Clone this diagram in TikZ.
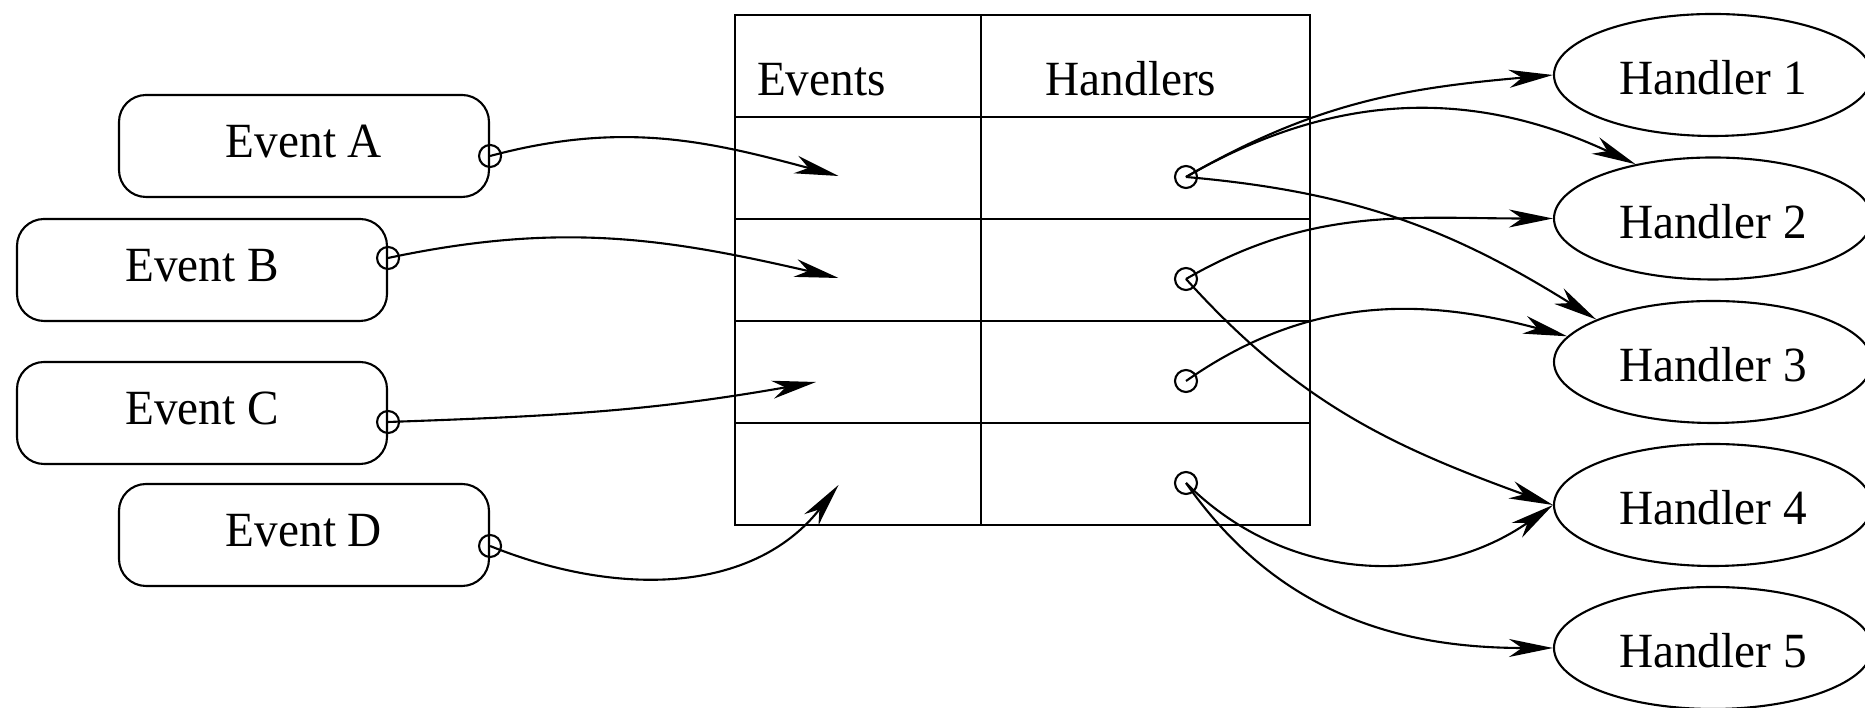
\documentclass[tikz,border=0pt]{standalone}
\usepackage{fontspec}
\setmainfont{Liberation Serif}[FakeStretch=0.96]
\usetikzlibrary{arrows.meta,positioning,shapes.geometric}

\begin{document}
\begin{tikzpicture}[x=1cm,y=1cm,font=\fontsize{14}{16}\selectfont,line width=0.6pt,
  link/.style={-{Stealth[length=4.4mm,width=1.8mm,inset=1.3mm]}},
  event/.style={draw,rounded corners=2.7mm,minimum width=3.7cm,minimum height=1.02cm,inner sep=0pt,text depth=0.1cm},
  handler/.style={draw,ellipse,minimum width=3.18cm,minimum height=1.22cm,inner sep=0pt,text height=0.4cm},
  cell/.style={draw,minimum height=1.02cm,inner sep=0pt,outer sep=0pt},
  evcell/.style={cell,minimum width=2.46cm},
  hdcell/.style={cell,minimum width=3.29cm},
  title/.style={inner sep=0pt},
  port/.style={draw,circle,minimum size=2.2mm,inner sep=0pt}]
\useasboundingbox (0,0) rectangle (18.65,7.08);

% the table: header row and four slots
\node[evcell] (ev0) at (8.58,6.42) {};
\node[hdcell,right=0cm of ev0] (hd0) {};
\foreach \i [count=\j from 0] in {1,...,4} {
  \node[evcell,below=0cm of ev\j] (ev\i) {};
  \node[hdcell,right=0cm of ev\i] (hd\i) {};
}
\node[title,anchor=base west] (evtitle) at ([shift={(0.21,0.21)}]ev0.south west) {Events};
\node[title,anchor=base] (hdtitle) at ([shift={(-0.145,0.21)}]hd0.south) {Handlers};
\foreach \i in {1,...,4}
  \node[port] (p\i) at ([shift={(0.405,-0.09)}]hd\i.center) {};

% events on the left
\node[event] (ea) at (3.04,5.62) {Event A};
\node[event] (eb) at (2.02,4.38) {Event B};
\node[event] (ec) at (2.02,2.95) {Event C};
\node[event] (ed) at (3.04,1.73) {Event D};
\node[port] (qa) at ([yshift=-0.1cm]ea.east) {};
\node[port] (qb) at ([yshift=0.12cm]eb.east) {};
\node[port] (qc) at ([yshift=-0.09cm]ec.east) {};
\node[port] (qd) at ([yshift=-0.11cm]ed.east) {};

% handlers on the right
\foreach \i/\y in {1/6.33,2/4.895,3/3.46,4/2.03,5/0.60}
  \node[handler] (h\i) at (17.13,\y) {Handler \i};

\coordinate (ta) at ([shift={(-0.195,-0.08)}]ev1.center);
\coordinate (tb) at ([shift={(-0.195,-0.08)}]ev2.center);
\coordinate (tc) at ([shift={(-0.42,-0.10)}]ev3.center);
\coordinate (td) at ([shift={(-0.195,-0.11)}]ev4.center);

\draw[link] (qa.center) to[out=15,in=165] (ta);
\draw[link] (qb.center) to[out=12,in=167] (tb);
\draw[link] (qc.center) to[out=2,in=190] (tc);
\draw[link] (qd.center) to[out=-22,in=232] (td);

\draw[link] (p1.center) to[out=30,in=185] (h1.west);
\draw[link] (p1.center) to[out=30,in=155] (h2.145);
\draw[link] (p1.center) to[out=-5,in=148] (h3.160);
\draw[link] (p2.center) to[out=30,in=180] (h2.west);
\draw[link] (p2.center) to[out=-48,in=160] (h4.west);
\draw[link] (p3.center) to[out=35,in=165] (h3.170);
\draw[link] (p4.center) to[out=-45,in=215] (h4.west);
\draw[link] (p4.center) to[out=-55,in=180] (h5.west);
\end{tikzpicture}
\end{document}
